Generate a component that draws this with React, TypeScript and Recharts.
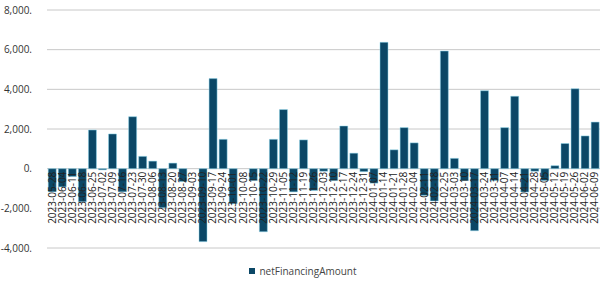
import React from 'react';
import { BarChart, Bar, XAxis, YAxis, CartesianGrid, Legend } from 'recharts';

const dates = [
  '2023-05-28','2023-06-04','2023-06-11','2023-06-18','2023-06-25','2023-07-02','2023-07-09','2023-07-16','2023-07-23','2023-07-30',
  '2023-08-06','2023-08-13','2023-08-20','2023-08-27','2023-09-03','2023-09-10','2023-09-17','2023-09-24','2023-10-01','2023-10-08',
  '2023-10-15','2023-10-22','2023-10-29','2023-11-05','2023-11-12','2023-11-19','2023-11-26','2023-12-03','2023-12-10','2023-12-17',
  '2023-12-24','2023-12-31','2024-01-07','2024-01-14','2024-01-21','2024-01-28','2024-02-04','2024-02-11','2024-02-18','2024-02-25',
  '2024-03-03','2024-03-10','2024-03-17','2024-03-24','2024-03-31','2024-04-07','2024-04-14','2024-04-21','2024-04-28','2024-05-05',
  '2024-05-12','2024-05-19','2024-05-26','2024-06-02','2024-06-09',
];

const netFinancingAmount = [
  -1170, -920, -400, -1670, 1950, -60, 1750, -1170, 2620, 620,
  380, -1970, 280, -650, 0, -3680, 4540, 1480, -1770, 0,
  -600, -3180, 1480, 2980, -1170, 1450, -1100, -130, -600, 2150,
  780, -150, -730, 6370, 950, 2070, 1300, -1350, -1630, 5930,
  520, -600, -3130, 3930, -600, 2070, 3650, -1180, -130, -600,
  150, 1270, 4030, 1650, 2350,
];

const yTicks = [-4000, -2000, 0, 2000, 4000, 6000, 8000];
const Y_MIN = -4000;
const Y_MAX = 8000;

const data = dates.map((d, i) => ({ date: d, netFinancingAmount: netFinancingAmount[i] }));

const W = 606;
const H = 285;
const M_TOP = 10;
const X_AXIS_H = 1;
const M_BOTTOM = 36;
const PLOT_H = H - M_TOP - M_BOTTOM - X_AXIS_H;
const ZERO_Y = M_TOP + (Y_MAX / (Y_MAX - Y_MIN)) * PLOT_H;

const FONT = '"Open Sans", sans-serif';

const fmtY = (v: number) => `${v.toLocaleString('en-US')}.`;

const DateTick = (props: any) => {
  const { x, payload } = props;
  const y = ZERO_Y + 3;
  return (
    <text
      x={x + 3.5}
      y={y}
      transform={`rotate(-90 ${x + 3.5} ${y})`}
      textAnchor="end"
      fontSize={10}
      fontFamily={FONT}
      fill="#222"
    >
      {payload.value}
    </text>
  );
};

const LegendContent = () => (
  <div style={{ width: W, textAlign: 'center', fontFamily: FONT, fontSize: 10, color: '#444', lineHeight: '14px' }}>
    <span style={{ display: 'inline-block', width: 6, height: 6, background: '#0b4766', marginRight: 4, verticalAlign: 'middle' }} />
    <span style={{ verticalAlign: 'middle' }}>netFinancingAmount</span>
  </div>
);

export default function App() {
  return (
    <div style={{ position: 'absolute', left: 0, top: 0, width: W, height: H, background: '#fff' }}>
      <BarChart width={W} height={H} data={data} margin={{ top: M_TOP, right: 6, bottom: M_BOTTOM, left: 0 }} barCategoryGap="12%">
        <CartesianGrid vertical={false} stroke="#c8c8c8" strokeWidth={1} />
        <XAxis dataKey="date" interval={0} tick={<DateTick />} tickLine={false} axisLine={false} height={X_AXIS_H} />
        <YAxis
          domain={[Y_MIN, Y_MAX]}
          ticks={yTicks}
          tickFormatter={fmtY}
          tickLine={false}
          axisLine={false}
          width={47}
          tickMargin={9}
          tick={{ fontSize: 10, fontFamily: FONT, fill: '#333' }}
          interval={0}
        />
        <Bar dataKey="netFinancingAmount" fill="#0b4766" stroke="#8fd8ee" strokeWidth={0.5} isAnimationActive={false} />
        <Legend
          verticalAlign="middle"
          layout="horizontal"
          content={<LegendContent />}
          wrapperStyle={{ left: 0, width: W, top: 263 }}
        />
      </BarChart>
    </div>
  );
}
